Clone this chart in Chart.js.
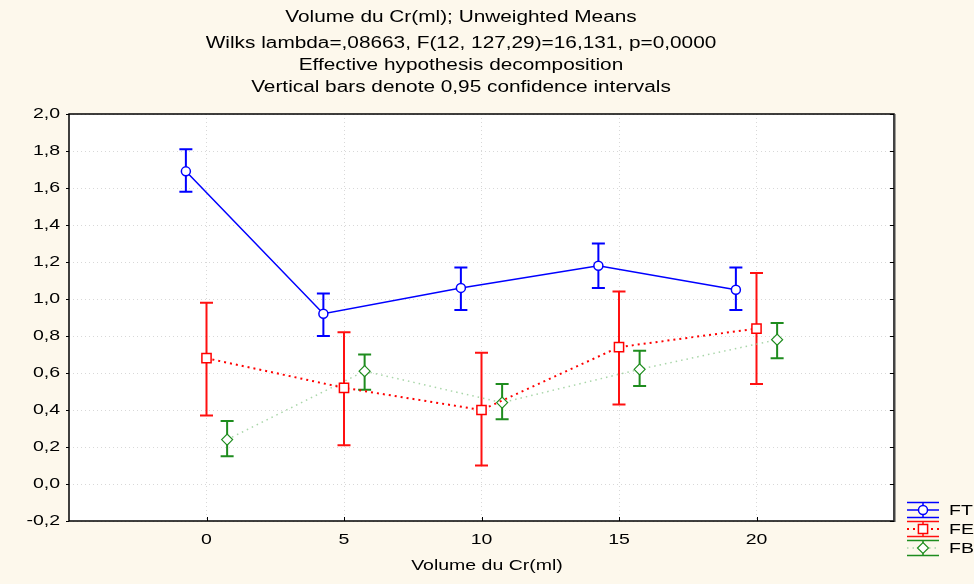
<!DOCTYPE html>
<html>
<head>
<meta charset="utf-8">
<script src="https://cdn.jsdelivr.net/npm/chart.js@4.4.0/dist/chart.umd.min.js"></script>
<style>
  html, body { margin: 0; padding: 0; background: #fdf8ec; }
  #wrap { width: 974px; height: 584px; position: relative; }
</style>
</head>
<body>
<div id="wrap"><canvas id="chart"></canvas></div>
<script>
// Volume du Cr(ml) levels and the unweighted means with 0,95 CI
const volumes = [0, 5, 10, 15, 20];

const ftMean = [1.69, 0.92, 1.06, 1.18, 1.05];
const ftLow  = [1.58, 0.80, 0.94, 1.06, 0.94];
const ftHigh = [1.81, 1.03, 1.17, 1.30, 1.17];

const feMean = [0.68, 0.52, 0.40, 0.74, 0.84];
const feLow  = [0.37, 0.21, 0.10, 0.43, 0.54];
const feHigh = [0.98, 0.82, 0.71, 1.04, 1.14];

const fbMean = [0.24, 0.61, 0.44, 0.62, 0.78];
const fbLow  = [0.15, 0.51, 0.35, 0.53, 0.68];
const fbHigh = [0.34, 0.70, 0.54, 0.72, 0.87];

const yTicks = [-0.2, 0, 0.2, 0.4, 0.6, 0.8, 1.0, 1.2, 1.4, 1.6, 1.8, 2.0];
const seriesNames = ['FT', 'FE', 'FB'];
// small horizontal dodge so the bars don't overlap (in x units)
const dodge = [-0.75, 0, 0.75];

const titleLines = [
    'Volume du Cr(ml); Unweighted Means',
    'Wilks lambda=,08663, F(12, 127,29)=16,131, p=0,0000',
    'Effective hypothesis decomposition',
    'Vertical bars denote 0,95 confidence intervals'
];
const titleY = [18, 44, 66, 88];
const xTitle = 'Volume du Cr(ml)';

// the source image is stretched sideways, so text is too
const STRETCH = 1.3;
const FONT = '"Liberation Sans", Arial, sans-serif';

function points(means, shift) {
    return volumes.map((v, i) => ({ x: v + shift, y: means[i] }));
}

function commaNum(v) {
    return v.toFixed(1).replace('.', ',');
}

function wideText(ctx, str, x, y, align, size) {
    ctx.save();
    ctx.font = size + 'px ' + FONT;
    ctx.fillStyle = '#000';
    ctx.textBaseline = 'middle';
    ctx.textAlign = align;
    ctx.translate(x, y);
    ctx.scale(STRETCH, 1);
    ctx.fillText(str, 0, 0);
    ctx.restore();
}

const errorBars = [
    { low: ftLow, high: ftHigh, color: '#0000ff' },
    { low: feLow, high: feHigh, color: '#ff1010' },
    { low: fbLow, high: fbHigh, color: '#1e8c1e' }
];

const decorPlugin = {
    id: 'decor',
    beforeDraw(chart) {
        const { ctx, chartArea: a } = chart;
        ctx.save();
        ctx.fillStyle = '#fdf8ec';
        ctx.fillRect(0, 0, chart.width, chart.height);
        ctx.fillStyle = '#ffffff';
        ctx.fillRect(a.left, a.top, a.right - a.left, a.bottom - a.top);
        ctx.restore();
    },
    beforeDatasetsDraw(chart) {
        const ctx = chart.ctx;
        const yScale = chart.scales.y;
        errorBars.forEach((eb, d) => {
            const meta = chart.getDatasetMeta(d);
            ctx.save();
            ctx.strokeStyle = eb.color;
            ctx.lineWidth = 2;
            meta.data.forEach((pt, i) => {
                const yTop = yScale.getPixelForValue(eb.high[i]);
                const yBot = yScale.getPixelForValue(eb.low[i]);
                ctx.beginPath();
                ctx.moveTo(pt.x, yTop);
                ctx.lineTo(pt.x, yBot);
                ctx.moveTo(pt.x - 6.5, yTop);
                ctx.lineTo(pt.x + 6.5, yTop);
                ctx.moveTo(pt.x - 6.5, yBot);
                ctx.lineTo(pt.x + 6.5, yBot);
                ctx.stroke();
            });
            ctx.restore();
        });
    },
    afterDraw(chart) {
        const { ctx, chartArea: a } = chart;
        const xScale = chart.scales.x;
        const yScale = chart.scales.y;

        // frame
        ctx.save();
        ctx.strokeStyle = '#000';
        ctx.lineWidth = 1.5;
        ctx.strokeRect(a.left, a.top, a.right - a.left, a.bottom - a.top);
        ctx.strokeStyle = '#444';
        ctx.lineWidth = 2;
        ctx.beginPath();
        ctx.moveTo(a.right + 0.5, a.top);
        ctx.lineTo(a.right + 0.5, a.bottom + 1);
        ctx.stroke();

        // tick marks
        ctx.strokeStyle = '#000';
        ctx.lineWidth = 1;
        ctx.beginPath();
        yScale.ticks.forEach(t => {
            const y = Math.round(yScale.getPixelForValue(t.value)) + 0.5;
            ctx.moveTo(a.left - 3, y);
            ctx.lineTo(a.left, y);
            ctx.moveTo(a.right - 4, y);
            ctx.lineTo(a.right, y);
        });
        xScale.ticks.forEach(t => {
            const x = Math.round(xScale.getPixelForValue(t.value)) + 0.5;
            ctx.moveTo(x, a.bottom);
            ctx.lineTo(x, a.bottom - 4);
        });
        ctx.stroke();
        ctx.restore();

        // tick labels
        yScale.ticks.forEach(t => {
            wideText(ctx, commaNum(t.value), a.left - 9, yScale.getPixelForValue(t.value), 'right', 15);
        });
        xScale.ticks.forEach(t => {
            wideText(ctx, String(t.value), xScale.getPixelForValue(t.value), a.bottom + 19, 'center', 15);
        });

        // titles
        titleLines.forEach((line, i) => {
            wideText(ctx, line, 461, titleY[i], 'center', 16);
        });
        wideText(ctx, xTitle, 487, a.bottom + 45, 'center', 15);

        // legend
        const helpers = Chart.helpers;
        chart.data.datasets.forEach((ds, i) => {
            const cy = 510 + i * 19;
            const x0 = 907, x1 = 939, cx = 923;
            ctx.save();
            ctx.strokeStyle = errorBars[i].color;
            ctx.lineWidth = 1.5;
            ctx.beginPath();
            ctx.moveTo(x0, cy - 7.5);
            ctx.lineTo(x1, cy - 7.5);
            ctx.moveTo(x0, cy + 7.5);
            ctx.lineTo(x1, cy + 7.5);
            ctx.moveTo(cx, cy - 7.5);
            ctx.lineTo(cx, cy + 7.5);
            ctx.stroke();
            ctx.strokeStyle = ds.borderColor;
            ctx.lineWidth = ds.borderWidth;
            ctx.setLineDash(ds.borderDash || []);
            ctx.beginPath();
            ctx.moveTo(x0, cy);
            ctx.lineTo(x1, cy);
            ctx.stroke();
            ctx.setLineDash([]);
            ctx.fillStyle = '#fff';
            ctx.strokeStyle = ds.pointBorderColor;
            ctx.lineWidth = ds.pointBorderWidth;
            helpers.drawPoint(ctx, {
                pointStyle: ds.pointStyle,
                radius: ds.pointRadius,
                borderWidth: ds.pointBorderWidth,
                rotation: 0
            }, cx, cy);
            ctx.restore();
            wideText(ctx, ds.label, 949, cy + 1, 'left', 15);
        });
    }
};

const ctx = document.getElementById('chart').getContext('2d');
new Chart(ctx, {
    type: 'line',
    data: {
        datasets: [
            {
                label: seriesNames[0],
                data: points(ftMean, dodge[0]),
                borderColor: '#0000ff',
                borderWidth: 1.5,
                pointStyle: 'circle',
                pointRadius: 4.5,
                pointBackgroundColor: '#ffffff',
                pointBorderColor: '#0000ff',
                pointBorderWidth: 1.5
            },
            {
                label: seriesNames[1],
                data: points(feMean, dodge[1]),
                borderColor: '#ff0000',
                borderWidth: 2,
                borderDash: [2, 4],
                pointStyle: 'rect',
                pointRadius: 6.5,
                pointBackgroundColor: '#ffffff',
                pointBorderColor: '#ff0000',
                pointBorderWidth: 1.5
            },
            {
                label: seriesNames[2],
                data: points(fbMean, dodge[2]),
                borderColor: '#a9d6a9',
                borderWidth: 1.5,
                borderDash: [1.5, 4],
                pointStyle: 'rectRot',
                pointRadius: 5.5,
                pointBackgroundColor: '#ffffff',
                pointBorderColor: '#1e8c1e',
                pointBorderWidth: 1.2
            }
        ]
    },
    options: {
        responsive: true,
        maintainAspectRatio: false,
        animation: false,
        events: [],
        layout: {
            padding: { left: 69, top: 114, right: 80, bottom: 63 }
        },
        elements: {
            line: { tension: 0 }
        },
        scales: {
            x: {
                type: 'linear',
                min: -5,
                max: 25,
                afterBuildTicks: scale => {
                    scale.ticks = volumes.map(v => ({ value: v }));
                },
                ticks: { display: false },
                grid: { color: '#d8d8d8', lineWidth: 1, drawTicks: false },
                border: { display: false, dash: [1, 3] }
            },
            y: {
                type: 'linear',
                min: -0.2,
                max: 2.0,
                afterBuildTicks: scale => {
                    scale.ticks = yTicks.map(v => ({ value: v }));
                },
                ticks: { display: false },
                grid: { color: '#d8d8d8', lineWidth: 1, drawTicks: false },
                border: { display: false, dash: [1, 3] }
            }
        },
        plugins: {
            legend: { display: false },
            title: { display: false },
            tooltip: { enabled: false }
        }
    },
    plugins: [decorPlugin]
});
</script>
</body>
</html>
